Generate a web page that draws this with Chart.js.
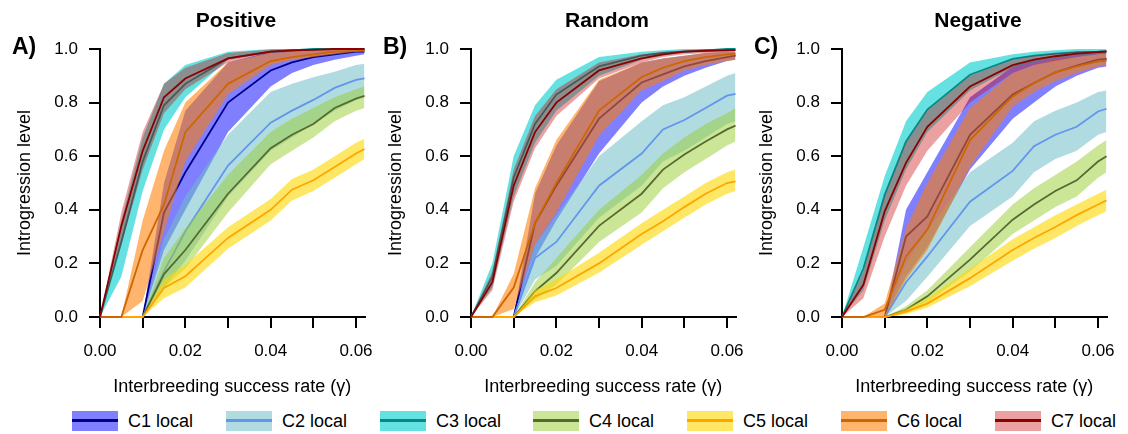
<!DOCTYPE html>
<html>
<head>
<meta charset="utf-8">
<script src="https://cdn.jsdelivr.net/npm/chart.js@4.4.0/dist/chart.umd.min.js"></script>
<style>
  body { margin: 0; background: #fff; }
  #wrap { position: relative; width: 1128px; height: 434px; overflow: hidden;
          font-family: "Liberation Sans", Arial, Helvetica, sans-serif; color: #000; }
  canvas { position: absolute; top: 0; }
  .ptitle { position: absolute; top: 9px; width: 200px; text-align: center;
            font-weight: bold; font-size: 21px; line-height: 21px; }
  .pletter { position: absolute; top: 35px; font-weight: bold; font-size: 23px; line-height: 23px; }
  .item { position: absolute; top: 411px; height: 20px; }
  .swatch { position: absolute; left: 0; top: 0; width: 46px; height: 20px; }
  .swatch span { position: absolute; left: 0; top: 8px; width: 46px; height: 3px; }
  .item label { position: absolute; left: 56px; top: -1px; font-size: 18px; line-height: 22px; white-space: nowrap; }
</style>
</head>
<body>
<div id="wrap">
  <canvas id="chart-pos" width="386" height="400" style="left:0px"></canvas>
  <canvas id="chart-rand" width="386" height="400" style="left:371px"></canvas>
  <canvas id="chart-neg" width="386" height="400" style="left:742px"></canvas>
  <div id="legend"></div>
</div>
<script>
// x positions (interbreeding success rate)
const gamma = [0, 0.005, 0.01, 0.015, 0.02, 0.03, 0.04, 0.045, 0.05, 0.055, 0.06, 0.062];
const xTicks = [0, 0.01, 0.02, 0.03, 0.04, 0.05, 0.06];
const xTickLabels = ['0.00', '', '0.02', '', '0.04', '', '0.06'];
const yTicks = [0, 0.2, 0.4, 0.6, 0.8, 1.0];
const yTickLabels = ['0.0', '0.2', '0.4', '0.6', '0.8', '1.0'];

const panelTitles = ['Positive', 'Random', 'Negative'];
const panelLetters = ['A)', 'B)', 'C)'];
const seriesNames = ['C1 local', 'C2 local', 'C3 local', 'C4 local', 'C5 local', 'C6 local', 'C7 local'];

const fillColors = [
  'rgba(0,0,255,0.5)',
  'rgba(110,190,200,0.55)',
  'rgba(0,205,205,0.6)',
  'rgba(154,205,50,0.5)',
  'rgba(255,215,0,0.6)',
  'rgba(255,125,0,0.57)',
  'rgba(200,0,0,0.37)'
];
const lineColors = ['#00008b', '#6495ed', '#008b8b', '#556b2f', '#ffa500', '#cd6600', '#8b0000'];

// Positive: median, lower and upper bound per group (C1..C7)
const posMid = [
  [0, 0, 0, 0.39, 0.54, 0.80, 0.92, 0.95, 0.97, 0.98, 0.99, 0.99],
  [0, 0, 0, 0.17, 0.32, 0.565, 0.725, 0.77, 0.81, 0.855, 0.885, 0.89],
  [0, 0.28, 0.58, 0.79, 0.87, 0.965, 0.99, 0.995, 1, 1, 1, 1],
  [0, 0, 0, 0.16, 0.25, 0.46, 0.63, 0.68, 0.72, 0.78, 0.815, 0.825],
  [0, 0, 0, 0.108, 0.152, 0.295, 0.40, 0.475, 0.51, 0.56, 0.61, 0.627],
  [0, 0, 0.25, 0.42, 0.69, 0.87, 0.955, 0.97, 0.98, 0.99, 0.993, 0.995],
  [0, 0.34, 0.62, 0.82, 0.89, 0.965, 0.99, 0.995, 0.997, 1, 1, 1]
];
const posLo = [
  [0, 0, 0, 0.25, 0.40, 0.69, 0.86, 0.91, 0.94, 0.96, 0.975, 0.98],
  [0, 0, 0, 0.11, 0.21, 0.45, 0.62, 0.67, 0.72, 0.77, 0.81, 0.82],
  [0, 0.15, 0.47, 0.70, 0.82, 0.96, 0.985, 0.99, 0.995, 1, 1, 1],
  [0, 0, 0, 0.11, 0.18, 0.39, 0.57, 0.62, 0.67, 0.73, 0.77, 0.78],
  [0, 0, 0, 0.07, 0.11, 0.255, 0.36, 0.435, 0.47, 0.52, 0.57, 0.59],
  [0, 0, 0.06, 0.32, 0.58, 0.83, 0.94, 0.96, 0.97, 0.98, 0.99, 0.99],
  [0, 0.27, 0.55, 0.76, 0.85, 0.95, 0.985, 0.99, 0.995, 1, 1, 1]
];
const posHi = [
  [0, 0, 0, 0.50, 0.77, 0.95, 0.99, 0.995, 1, 1, 1, 1],
  [0, 0, 0, 0.29, 0.45, 0.68, 0.84, 0.87, 0.895, 0.915, 0.94, 0.945],
  [0, 0.36, 0.67, 0.87, 0.94, 0.99, 1, 1, 1, 1, 1, 1],
  [0, 0, 0, 0.22, 0.33, 0.53, 0.69, 0.74, 0.78, 0.82, 0.85, 0.86],
  [0, 0, 0, 0.14, 0.195, 0.335, 0.44, 0.515, 0.55, 0.60, 0.65, 0.665],
  [0, 0, 0.36, 0.62, 0.80, 0.95, 0.985, 0.99, 0.995, 1, 1, 1],
  [0, 0.39, 0.69, 0.87, 0.93, 0.985, 0.998, 1, 1, 1, 1, 1]
];

// Random
const randMid = [
  [0, 0, 0, 0.35, 0.49, 0.74, 0.875, 0.905, 0.935, 0.955, 0.97, 0.975],
  [0, 0, 0, 0.22, 0.28, 0.49, 0.61, 0.70, 0.735, 0.78, 0.826, 0.833],
  [0, 0.15, 0.52, 0.72, 0.83, 0.935, 0.975, 0.985, 0.99, 0.995, 1, 1],
  [0, 0, 0, 0.096, 0.164, 0.34, 0.46, 0.55, 0.606, 0.655, 0.70, 0.714],
  [0, 0, 0, 0.077, 0.108, 0.20, 0.31, 0.357, 0.41, 0.46, 0.50, 0.506],
  [0, 0, 0.11, 0.35, 0.50, 0.77, 0.895, 0.93, 0.955, 0.97, 0.98, 0.983],
  [0, 0.13, 0.49, 0.69, 0.80, 0.92, 0.965, 0.98, 0.99, 0.993, 0.995, 0.996]
];
const randLo = [
  [0, 0, 0, 0.22, 0.36, 0.61, 0.80, 0.86, 0.90, 0.93, 0.955, 0.96],
  [0, 0, 0, 0.14, 0.19, 0.37, 0.49, 0.58, 0.62, 0.67, 0.72, 0.73],
  [0, 0.11, 0.45, 0.65, 0.77, 0.90, 0.96, 0.975, 0.985, 0.99, 0.995, 0.995],
  [0, 0, 0, 0.065, 0.12, 0.28, 0.39, 0.48, 0.54, 0.59, 0.64, 0.655],
  [0, 0, 0, 0.055, 0.08, 0.165, 0.27, 0.32, 0.37, 0.42, 0.46, 0.47],
  [0, 0, 0.03, 0.27, 0.39, 0.675, 0.845, 0.88, 0.92, 0.94, 0.955, 0.96],
  [0, 0.10, 0.43, 0.63, 0.75, 0.89, 0.95, 0.97, 0.98, 0.985, 0.99, 0.99]
];
const randHi = [
  [0, 0, 0, 0.46, 0.64, 0.88, 0.95, 0.965, 0.975, 0.985, 0.99, 0.99],
  [0, 0, 0, 0.27, 0.38, 0.60, 0.73, 0.79, 0.82, 0.86, 0.90, 0.91],
  [0, 0.20, 0.60, 0.79, 0.885, 0.97, 0.99, 0.995, 1, 1, 1, 1],
  [0, 0, 0, 0.13, 0.22, 0.40, 0.53, 0.61, 0.67, 0.72, 0.76, 0.78],
  [0, 0, 0, 0.10, 0.14, 0.24, 0.35, 0.40, 0.45, 0.50, 0.54, 0.55],
  [0, 0, 0.16, 0.48, 0.66, 0.885, 0.95, 0.965, 0.975, 0.985, 0.99, 0.99],
  [0, 0.17, 0.55, 0.75, 0.85, 0.95, 0.98, 0.99, 0.995, 1, 1, 1]
];

// Negative
const negMid = [
  [0, 0, 0, 0.30, 0.375, 0.68, 0.83, 0.873, 0.913, 0.938, 0.96, 0.963],
  [0, 0, 0, 0.13, 0.226, 0.43, 0.545, 0.637, 0.68, 0.71, 0.767, 0.777],
  [0, 0.18, 0.456, 0.655, 0.774, 0.904, 0.963, 0.975, 0.983, 0.988, 0.99, 0.992],
  [0, 0, 0, 0.027, 0.077, 0.214, 0.363, 0.42, 0.47, 0.51, 0.58, 0.60],
  [0, 0, 0, 0.02, 0.05, 0.145, 0.25, 0.295, 0.336, 0.38, 0.42, 0.435],
  [0, 0, 0.027, 0.226, 0.326, 0.66, 0.823, 0.873, 0.913, 0.935, 0.954, 0.957],
  [0, 0.12, 0.394, 0.575, 0.71, 0.86, 0.94, 0.96, 0.973, 0.983, 0.988, 0.99]
];
const negLo = [
  [0, 0, 0, 0.15, 0.26, 0.55, 0.74, 0.80, 0.86, 0.90, 0.93, 0.935],
  [0, 0, 0, 0.06, 0.15, 0.34, 0.45, 0.54, 0.59, 0.62, 0.68, 0.69],
  [0, 0.10, 0.36, 0.55, 0.69, 0.845, 0.93, 0.95, 0.965, 0.975, 0.98, 0.983],
  [0, 0, 0, 0.015, 0.055, 0.17, 0.31, 0.36, 0.41, 0.45, 0.52, 0.54],
  [0, 0, 0, 0.01, 0.035, 0.115, 0.21, 0.255, 0.295, 0.34, 0.38, 0.395],
  [0, 0, 0, 0.14, 0.25, 0.56, 0.785, 0.84, 0.88, 0.91, 0.935, 0.94],
  [0, 0.07, 0.30, 0.49, 0.62, 0.80, 0.91, 0.94, 0.955, 0.97, 0.98, 0.982]
];
const negHi = [
  [0, 0, 0, 0.40, 0.54, 0.82, 0.935, 0.96, 0.975, 0.985, 0.99, 0.99],
  [0, 0, 0, 0.20, 0.32, 0.54, 0.65, 0.73, 0.77, 0.80, 0.84, 0.845],
  [0, 0.26, 0.525, 0.73, 0.84, 0.95, 0.98, 0.99, 0.995, 1, 1, 1],
  [0, 0, 0, 0.04, 0.10, 0.26, 0.42, 0.48, 0.53, 0.58, 0.64, 0.66],
  [0, 0, 0, 0.03, 0.07, 0.18, 0.29, 0.335, 0.38, 0.42, 0.46, 0.475],
  [0, 0, 0.05, 0.33, 0.50, 0.78, 0.91, 0.94, 0.96, 0.97, 0.98, 0.985],
  [0, 0.17, 0.45, 0.65, 0.77, 0.90, 0.96, 0.975, 0.983, 0.99, 0.993, 0.995]
];

const FONT = '"Liberation Sans", Arial, Helvetica, sans-serif';

function toPoints(vals) {
  return gamma.map((g, i) => ({ x: g, y: vals[i] }));
}

function makeChart(id, mid, lo, hi) {
  const datasets = [];
  let step = 0;
  // groups are painted C1 first, C7 last (band, then its median line)
  for (let k = 0; k < seriesNames.length; k++) {
    datasets.push({
      data: toPoints(lo[k]), borderColor: 'rgba(0,0,0,0)', borderWidth: 0,
      pointRadius: 0, fill: false, order: 100 - step++
    });
    datasets.push({
      data: toPoints(hi[k]), borderColor: 'rgba(0,0,0,0)', borderWidth: 0,
      backgroundColor: fillColors[k], pointRadius: 0, fill: '-1', order: 100 - step++
    });
    datasets.push({
      label: seriesNames[k], data: toPoints(mid[k]), borderColor: lineColors[k],
      borderWidth: 1.8, pointRadius: 0, fill: false, clip: false, order: 100 - step++
    });
  }

  const axisStyle = {
    grid: { drawOnChartArea: false, drawTicks: true, tickLength: 11, color: '#000', lineWidth: 2 },
    border: { display: true, color: '#000', width: 2 }
  };

  return new Chart(document.getElementById(id), {
    type: 'line',
    data: { datasets: datasets },
    options: {
      responsive: false,
      animation: false,
      devicePixelRatio: 1,
      layout: { padding: { left: 0, right: 14, top: 49, bottom: 0 } },
      plugins: { legend: { display: false }, tooltip: { enabled: false } },
      elements: { line: { tension: 0 } },
      scales: {
        x: {
          type: 'linear', min: 0, max: 0.062,
          afterBuildTicks: (s) => { s.ticks = xTicks.map(v => ({ value: v })); },
          afterFit: (s) => { s.height = 83; },
          ...axisStyle,
          ticks: {
            autoSkip: false, maxRotation: 0, padding: 13, color: '#000',
            font: { family: FONT, size: 17 },
            callback: (v, i) => xTickLabels[i]
          },
          title: {
            display: true, text: 'Interbreeding success rate (γ)', color: '#000',
            font: { family: FONT, size: 18 }, padding: { top: 0, bottom: 2 }
          }
        },
        y: {
          type: 'linear', min: 0, max: 1,
          afterBuildTicks: (s) => { s.ticks = yTicks.map(v => ({ value: v })); },
          afterFit: (s) => { s.width = 100; },
          ...axisStyle,
          ticks: {
            autoSkip: false, padding: 11, color: '#000',
            font: { family: FONT, size: 17 },
            callback: (v, i) => yTickLabels[i]
          },
          title: {
            display: true, text: 'Introgression level', color: '#000',
            font: { family: FONT, size: 18 }, padding: { top: 14, bottom: 0 }
          }
        }
      }
    }
  });
}

makeChart('chart-pos', posMid, posLo, posHi);
makeChart('chart-rand', randMid, randLo, randHi);
makeChart('chart-neg', negMid, negLo, negHi);

// panel titles and letters
const wrap = document.getElementById('wrap');
const panelLeft = [0, 371, 742];
panelTitles.forEach((t, i) => {
  const d = document.createElement('div');
  d.className = 'ptitle';
  d.style.left = (panelLeft[i] + 236 - 100) + 'px';
  d.textContent = t;
  wrap.appendChild(d);
  const l = document.createElement('div');
  l.className = 'pletter';
  l.style.left = (panelLeft[i] + 12) + 'px';
  l.textContent = panelLetters[i];
  wrap.appendChild(l);
});

// legend: filled box with the median line through it
const legend = document.getElementById('legend');
seriesNames.forEach((name, k) => {
  const item = document.createElement('div');
  item.className = 'item';
  item.style.left = Math.round(72 + 153.8 * k) + 'px';
  item.innerHTML = '<div class="swatch" style="background:' + fillColors[k] + '"><span style="background:' +
    lineColors[k] + '"></span></div><label>' + name + '</label>';
  legend.appendChild(item);
});
</script>
</body>
</html>
